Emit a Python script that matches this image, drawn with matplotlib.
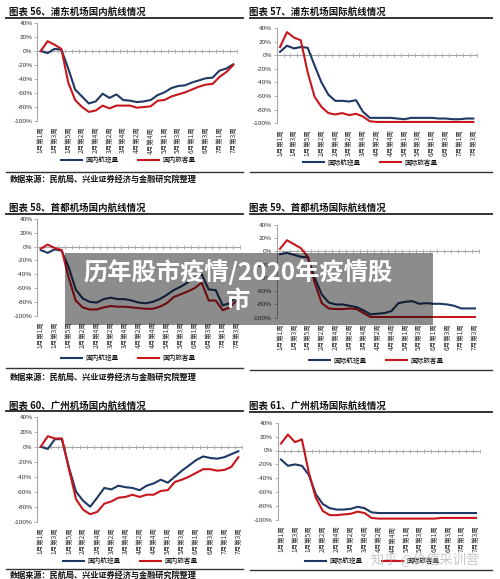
import numpy as np
import matplotlib
matplotlib.use("Agg")
import matplotlib.pyplot as plt
from matplotlib.lines import Line2D

plt.rcParams['font.family'] = ['Noto Sans CJK SC', 'DejaVu Sans']

W, H = 500, 579

week_labels = ["1月第1周", "1月第3周", "1月第5周", "2月第2周", "2月第4周", "3月第2周",
               "3月第4周", "4月第2周", "4月第4周", "5月第1周", "5月第3周", "6月第1周",
               "6月第3周", "7月第1周", "7月第3周"]

# 浦东 国内
pd_dom_flights = [0, -3, 3, 2, -25, -55, -65, -75, -72, -61, -67, -62, -70, -71, -73,
                  -72, -70, -63, -59, -53, -50, -49, -45, -42, -39, -38, -28, -25, -19]
pd_dom_pax = [0, 14, 9, 3, -45, -70, -80, -87, -85, -78, -82, -78, -78, -78, -81,
              -80, -79, -71, -70, -65, -62, -59, -55, -51, -48, -47, -37, -30, -20]
# 浦东 国际
pd_int_flights = [5, 14, 10, 12, 11, -15, -40, -58, -67, -67, -68, -66, -83, -92, -92,
                  -92, -92, -93, -94, -92, -92, -92, -92, -93, -93, -94, -94, -93, -93]
pd_int_pax = [12, 34, 26, 22, -25, -61, -76, -85, -87, -85, -88, -86, -90, -97, -98,
              -98, -98, -98, -98, -98, -98, -98, -98, -98, -98, -98, -98, -98, -98]
# 首都 国内
bj_dom_flights = [-5, -9, -4, -6, -30, -62, -75, -80, -81, -76, -74, -76, -76, -78, -81,
                  -82, -80, -76, -70, -63, -58, -52, -45, -40, -62, -63, -85, -82, -72]
bj_dom_pax = [-3, 3, -2, -5, -45, -78, -88, -91, -91, -88, -86, -87, -87, -88, -89,
              -90, -90, -87, -82, -73, -69, -65, -60, -52, -78, -78, -92, -88, -78]
# 首都 国际
bj_int_flights = [-4, -2, -5, -8, -9, -40, -65, -77, -80, -80, -82, -84, -89, -95, -94,
                  -93, -90, -78, -76, -75, -79, -78, -79, -79, -80, -82, -86, -86, -86]
bj_int_pax = [4, 17, 11, 5, -8, -48, -78, -86, -87, -87, -86, -87, -93, -99, -99,
              -99, -99, -99, -99, -99, -99, -99, -99, -99, -99, -99, -99, -99, -99]
# 广州 国内
gz_dom_flights = [0, -3, 10, 10, -28, -60, -72, -80, -68, -55, -57, -52, -54, -55, -58,
                  -52, -49, -44, -48, -40, -32, -25, -18, -13, -15, -16, -14, -10, -6]
gz_dom_pax = [0, 14, 11, 11, -30, -70, -84, -90, -87, -76, -73, -68, -67, -64, -67,
              -64, -64, -59, -58, -47, -44, -40, -35, -30, -30, -32, -31, -27, -14]
# 广州 国际
gz_int_flights = [-13, -22, -20, -22, -35, -63, -77, -83, -85, -85, -84, -81, -83, -89, -90,
                  -90, -90, -90, -90, -90, -90, -90, -90, -90, -90, -90, -90, -90, -90]
gz_int_pax = [10, 23, 12, 16, -32, -68, -87, -93, -93, -92, -91, -88, -90, -97, -98,
              -98, -98, -98, -98, -98, -98, -98, -98, -97, -97, -97, -97, -97, -97]

NAVY = '#1f3864'
RED = '#c8161d'
AXC = '#a6a6a6'
TXT = '#333333'

fig = plt.figure(figsize=(W / 100, H / 100), dpi=100)
fig.patch.set_facecolor('white')


def fx(x):
    return x / W


def fy(y):
    return 1 - y / H


def hline(x0, x1, y, lw=1.2, color='#333333'):
    fig.add_artist(Line2D([fx(x0), fx(x1)], [fy(y), fy(y)], transform=fig.transFigure,
                          color=color, lw=lw))


def panel(box, title, title_xy, line_y, title_line, s1, s2, labels, leg_xy, src=None):
    left, right, top, bottom = box
    ax = fig.add_axes([fx(left), fy(bottom), (right - left) / W, (bottom - top) / H])
    x = np.arange(len(s1))
    ax.set_xlim(-0.5, len(s1) - 0.5)
    ax.set_ylim(-100, 40)
    # zero line with small category ticks
    ax.axhline(0, color=AXC, lw=0.8, zorder=1)
    ax.plot(np.arange(-0.5, len(s1)), np.zeros(len(s1) + 1), '|', color=AXC, ms=2.5, mew=0.6, zorder=1)
    ax.plot(x, s1, color=NAVY, lw=1.5, label=labels[0], solid_joinstyle='round', zorder=3)
    ax.plot(x, s2, color=RED, lw=1.5, label=labels[1], solid_joinstyle='round', zorder=3)
    for s in ['top', 'right', 'bottom']:
        ax.spines[s].set_visible(False)
    ax.spines['left'].set_color(AXC)
    ax.spines['left'].set_linewidth(0.8)
    ax.set_yticks(range(-100, 41, 20))
    ax.set_yticklabels([f"{v}%" for v in range(-100, 41, 20)], fontsize=4.6, color=TXT,
                       family=['Liberation Sans', 'DejaVu Sans'])
    ax.tick_params(axis='y', length=2, width=0.6, color=AXC, pad=1.5)
    ax.set_xticks(x[::2])
    ax.set_xticklabels(week_labels, rotation=90, fontsize=4.7, color=TXT, va='top', ha='center')
    ax.tick_params(axis='x', length=0, pad=4)
    ax.patch.set_alpha(0)
    ax.legend(loc='center', bbox_to_anchor=(fx(leg_xy[0]), fy(leg_xy[1])),
              bbox_transform=fig.transFigure, ncol=2, frameon=False, fontsize=4.8,
              handlelength=3.2, columnspacing=3.0, handletextpad=0.4, borderpad=0)
    fig.text(fx(title_xy[0]), fy(title_xy[1]), title, fontsize=6.8, fontweight='bold',
             color='#111111', va='center', ha='left')
    hline(title_line[0], title_line[1], line_y[0], lw=1.3, color='#222222')
    hline(title_line[0], title_line[1], line_y[1], lw=1.0, color='#333333')
    if src:
        fig.text(fx(10), fy(src), "数据来源：民航局、兴业证券经济与金融研究院整理", fontsize=5.9,
                 fontweight='bold', color='#111111', va='center', ha='left')
    return ax


dom = ["国内航班量", "国内旅客量"]
intl = ["国际航班量", "国际旅客量"]

panel((37.3, 236.7, 23, 121), "图表 56、浦东机场国内航线情况", (9, 12), (17.5, 172),
      (6, 243), pd_dom_flights, pd_dom_pax, dom, (128, 160), src=179)
panel((276.6, 476.8, 28, 123.3), "图表 57、浦东机场国际航线情况", (249, 12), (17.5, 172.5),
      (250, 492), pd_int_flights, pd_int_pax, intl, (370, 162.5))
panel((37.2, 240.2, 219, 315.7), "图表 58、首都机场国内航线情况", (9, 208), (213.5, 368),
      (6, 243), bj_dom_flights, bj_dom_pax, dom, (128, 358), src=377)
panel((276.5, 478.5, 225, 317.7), "图表 59、首都机场国际航线情况", (249, 208), (214, 370),
      (250, 492), bj_int_flights, bj_int_pax, intl, (376, 360.5))
panel((37.2, 241.9, 416.7, 521.7), "图表 60、广州机场国内航线情况", (9, 405.5), (411, 569),
      (6, 243), gz_dom_flights, gz_dom_pax, dom, (130, 561.5), src=575)
panel((277.5, 479.5, 422.7, 520), "图表 61、广州机场国际航线情况", (249, 405.5), (412, 570),
      (250, 492), gz_int_flights, gz_int_pax, intl, (372, 561.5))

# overlay banner
fig.add_artist(plt.Rectangle((fx(65), fy(325)), (433 - 65) / W, (325 - 253) / H,
                             transform=fig.transFigure, facecolor='black', alpha=0.45,
                             edgecolor='none', zorder=10))
fig.text(fx(238), fy(272), "历年股市疫情/2020年疫情股", fontsize=17.5, fontweight='bold',
         color='white', ha='center', va='center', zorder=11)
fig.text(fx(238), fy(301), "市", fontsize=17.5, fontweight='bold',
         color='white', ha='center', va='center', zorder=11)

# watermark
fig.text(fx(425), fy(560), "知乎 @价值采训营", fontsize=9.5, color='#b0b0b0', alpha=0.7,
         ha='center', va='center', zorder=11)

fig.savefig('out.png', dpi=100)
